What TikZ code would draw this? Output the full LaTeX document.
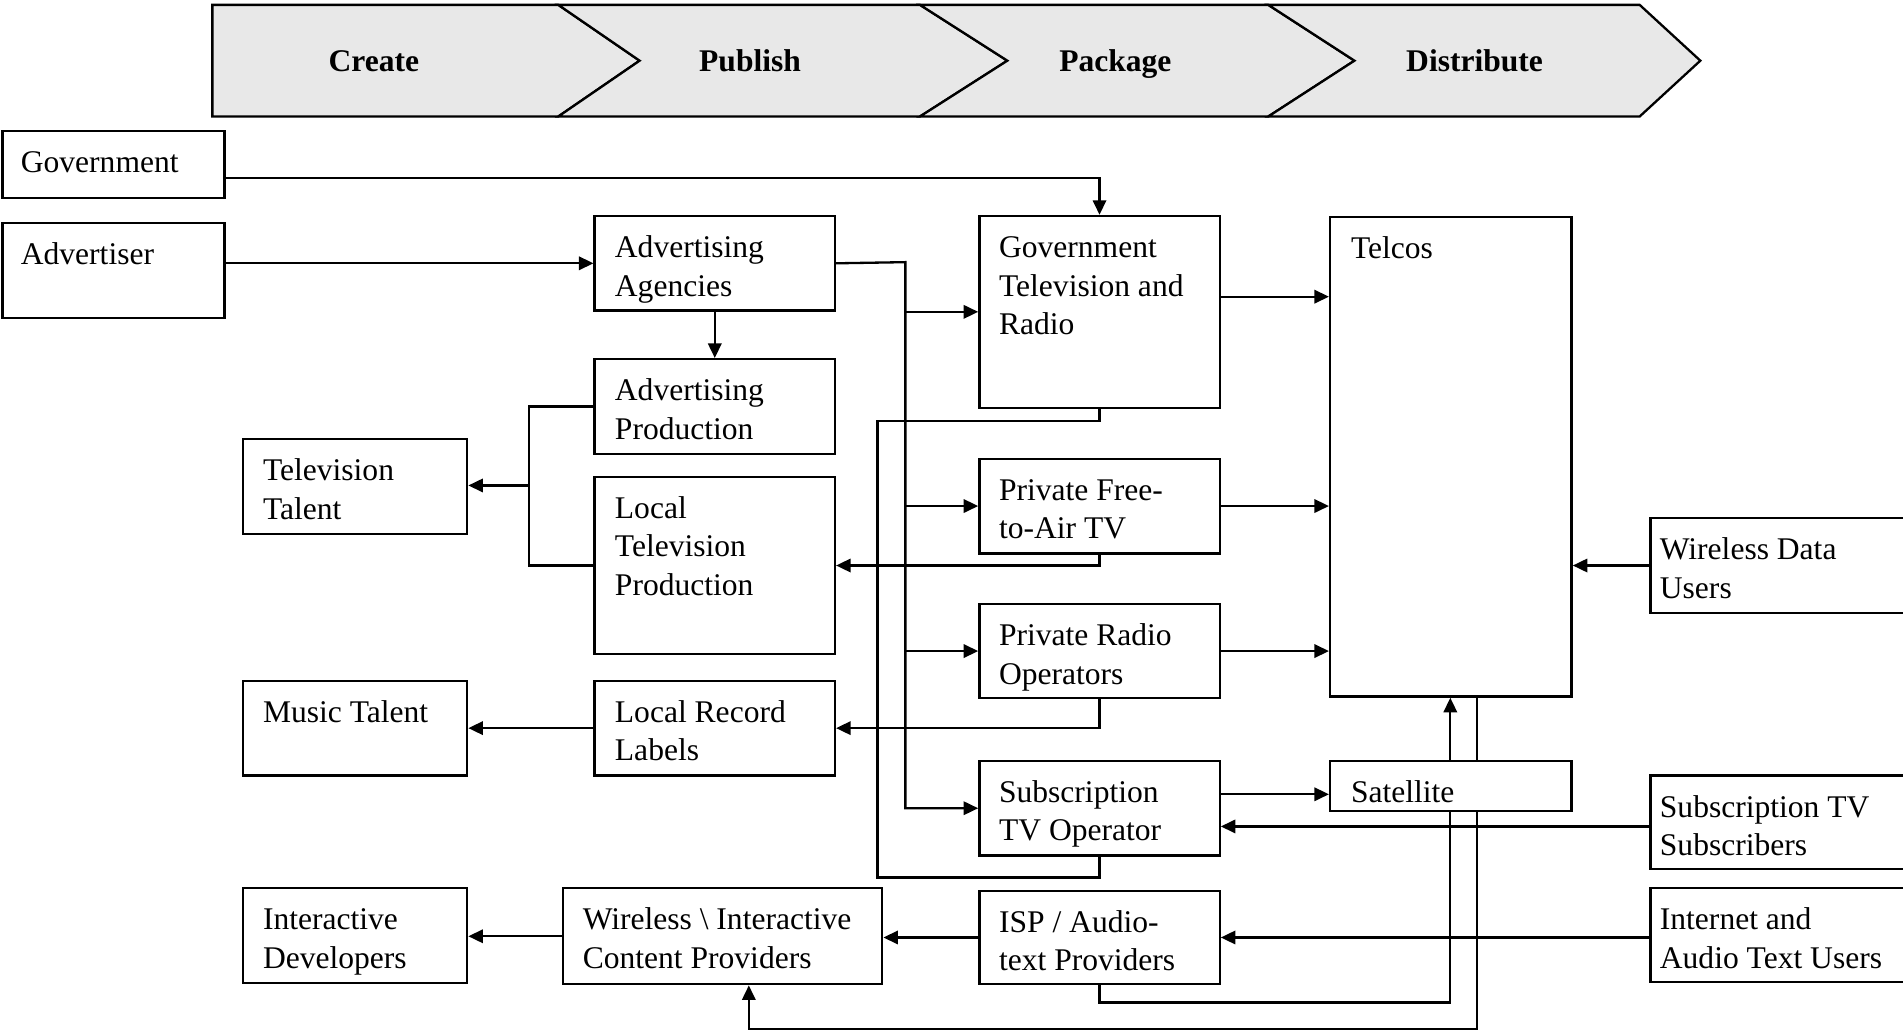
\documentclass[tikz,border=0pt]{standalone}
\usepackage{fontspec}
\setmainfont{Liberation Serif}
\usetikzlibrary{arrows.meta,backgrounds}

\definecolor{chevgray}{HTML}{E8E8E8}

\tikzset{
  box/.style={draw=black, line width=1.9pt, fill=white, anchor=north west, inner sep=0pt},
  boxtext/.style={anchor=north west, inner sep=0pt, align=left, font=\fontsize{26}{31.7}\selectfont},
  conn/.style={line width=1.9pt},
  arr/.style={conn, -{Triangle[length=12pt,width=11pt]}},
  chev/.style={draw=black, line width=1.9pt, fill=chevgray, line join=miter},
  phase/.style={anchor=base, inner sep=0pt, font=\fontsize{26}{30}\selectfont\bfseries},
}

% box with its text set flush top-left: name, x, y, width, height, text inset, text
\newcommand\unitbox[7]{%
  \node[box, minimum width=#4pt, minimum height=#5pt] (#1) at (#2,#3) {};
  \node[boxtext] (#1-t) at ([shift={(#6pt,-13pt)}]#1.north west) {\rule{0pt}{22pt}#7};
}

\begin{document}
\begin{tikzpicture}[x=1pt,y=-1pt]
\useasboundingbox (0,0) rectangle (1568,851);
\clip (0,0) rectangle (1568,851);

% value chain phases
\draw[chev] (175,4) -- (460,4) -- (527,50) -- (460,96) -- (175,96) -- cycle;
\draw[chev] (460,4) -- (758,4) -- (830,50) -- (758,96) -- (460,96) -- (527,50) -- cycle;
\draw[chev] (758,4) -- (1045,4) -- (1116,50) -- (1045,96) -- (758,96) -- (830,50) -- cycle;
\draw[chev] (1045,4) -- (1351,4) -- (1401,50) -- (1351,96) -- (1045,96) -- (1116,50) -- cycle;
\node[phase] (create) at (308,59) {Create};
\node[phase] (publish) at (618,59) {Publish};
\node[phase] (package) at (919,59) {Package};
\node[phase] (distribute) at (1215,59) {Distribute};

% participants
\unitbox{gov}{1}{107}{183}{55}{16}{Government}
\unitbox{adv}{1}{183}{183}{78}{16}{Advertiser}
\unitbox{agency}{489}{177}{198}{78}{17.5}{Advertising\\Agencies}
\unitbox{advprod}{489}{295}{198}{78}{17.5}{Advertising\\Production}
\unitbox{ltvprod}{489}{392}{198}{146}{17.5}{Local\\Television\\Production}
\unitbox{labels}{489}{560}{198}{78}{17.5}{Local Record\\Labels}
\unitbox{tvtal}{199}{361}{185}{78}{17.5}{Television\\Talent}
\unitbox{music}{199}{560}{185}{78}{17.5}{Music Talent}
\unitbox{idev}{199}{731}{185}{78}{17.5}{Interactive\\Developers}
\unitbox{wicp}{463}{731}{263}{79}{17}{Wireless \textbackslash{} Interactive\\Content Providers}
\unitbox{govtv}{806}{177}{198}{158}{17}{Government\\Television and\\Radio}
\unitbox{fta}{806}{377}{198}{78}{17}{Private Free-\\to-Air TV}
\unitbox{radio}{806}{497}{198}{77}{17}{Private Radio\\Operators}
\unitbox{subop}{806}{626}{198}{78}{17}{Subscription\\TV Operator}
\unitbox{isp}{806}{733}{198}{77}{17}{ISP / Audio-\\text Providers}
\unitbox{telcos}{1095}{178}{199}{395}{18}{Telcos}
\unitbox{sat}{1095}{626}{199}{41}{18}{Satellite}
\unitbox{wdu}{1359}{426}{260}{78}{8.5}{Wireless Data\\Users}
\unitbox{subs}{1359}{638}{260}{77}{8.5}{Subscription TV\\Subscribers}
\unitbox{inet}{1359}{731}{260}{77}{8.5}{Internet and\\Audio Text Users}

% flows
\begin{scope}[on background layer]
  \draw[arr] ([yshift=-11.5pt]gov.east) -| (govtv.north);
  \draw[arr] (agency.west -| adv.east) -- (agency.west);
  \draw[arr] (agency.south) -- (advprod.north);

  \coordinate (trunk) at (746,216);
  \draw[arr] (agency.east) -- (trunk) |- (subop.west);
  \draw[arr] (trunk |- govtv.west) -- (govtv.west);
  \draw[arr] (trunk |- fta.west) -- (fta.west);
  \draw[arr] (trunk |- radio.west) -- (radio.west);

  \coordinate (tj) at (436,400);
  \draw[conn] (advprod.west) -| (tj) |- (ltvprod.west);
  \draw[arr] (tj) -- (tj -| tvtal.east);

  \draw[arr] (fta.south) |- (ltvprod.east);
  \draw[arr] (radio.south) |- (labels.east);
  \draw[arr] (labels.west) -- (labels.west -| music.east);

  \coordinate (lp1) at (723,347);
  \coordinate (lp2) at (723,723);
  \draw[conn] (govtv.south) |- (lp1) -- (lp2) -| (subop.south);

  \coordinate (g2t) at ([yshift=12.5pt]govtv.east);
  \draw[arr] (g2t) -- (g2t -| telcos.west);
  \draw[arr] (fta.east) -- (fta.east -| telcos.west);
  \draw[arr] (radio.east) -- (radio.east -| telcos.west);

  \coordinate (o2s) at ([yshift=-7pt]sat.west);
  \draw[arr] (o2s -| subop.east) -- (o2s);
  \coordinate (s2o) at ([yshift=-3.5pt]subs.west);
  \draw[arr] (s2o) -- (s2o -| subop.east);
  \draw[arr] (wdu.west) -- (wdu.west -| telcos.east);
  \draw[arr] (inet.west |- isp.east) -- (isp.east);
  \draw[arr] (isp.west) -- (isp.west -| wicp.east);
  \draw[arr] (wicp.west) -- (wicp.west -| idev.east);

  \coordinate (up1) at (1195,826);
  \draw[arr] (isp.south) |- (up1) -- (up1 |- telcos.south);
  \coordinate (dn1) at (1217,848);
  \coordinate (wx) at (617,848);
  \draw[arr] (dn1 |- telcos.south) -- (dn1) -- (wx) -- (wx |- wicp.south);
\end{scope}
\end{tikzpicture}
\end{document}
